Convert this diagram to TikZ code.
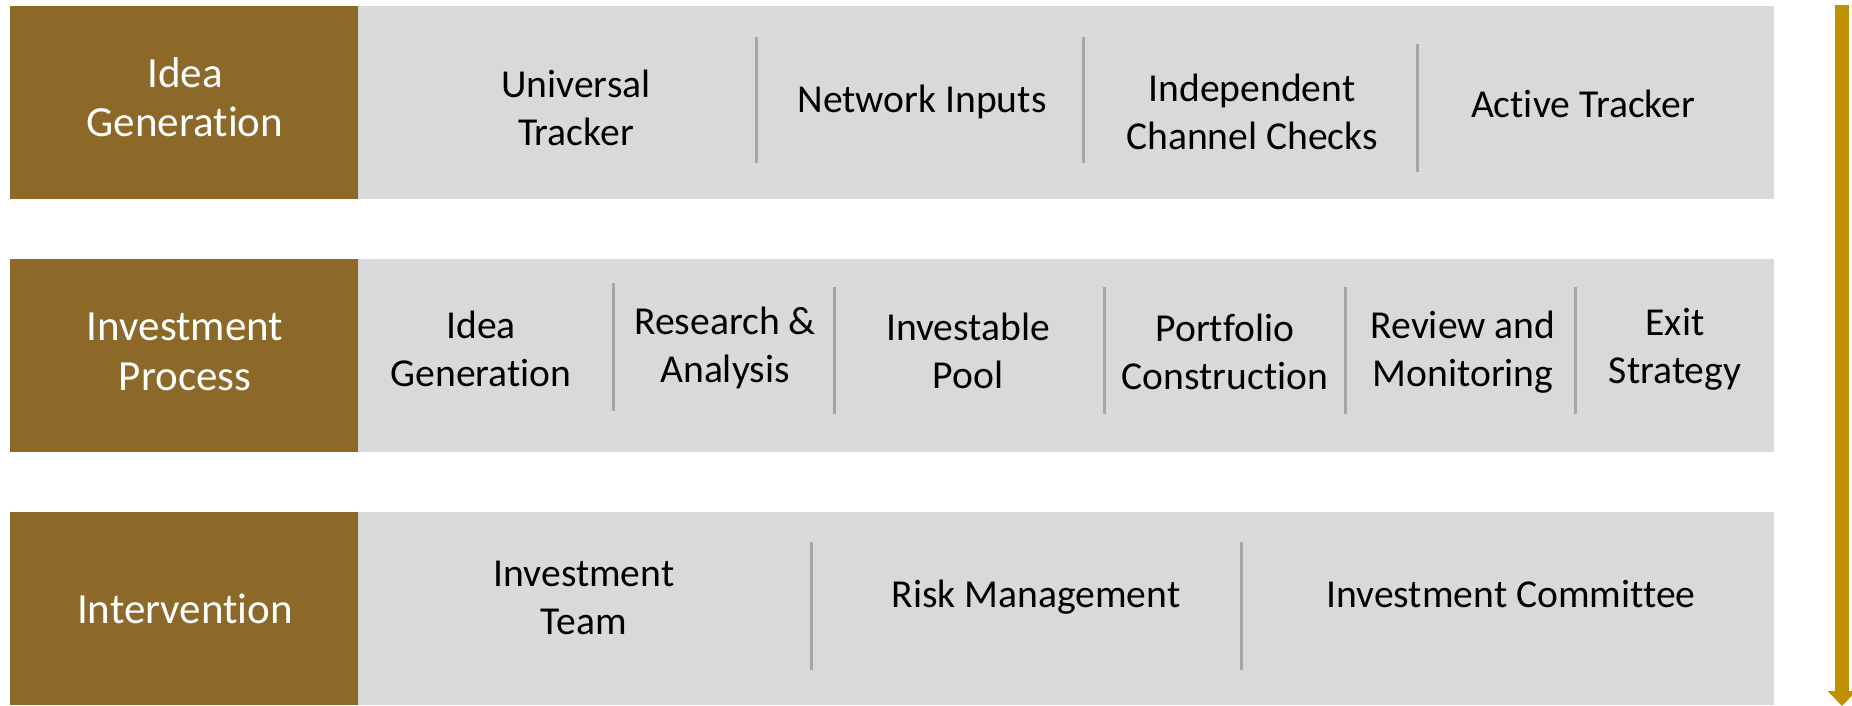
\documentclass[tikz,border=0pt]{standalone}
\usepackage{fontspec}
\setmainfont[Ligatures=NoCommon]{Carlito}
\usetikzlibrary{arrows.meta}
\definecolor{brownc}{HTML}{8C6829}
\definecolor{greyc}{HTML}{D9D9D9}
\definecolor{sepc}{HTML}{A6A6A6}
\definecolor{goldc}{HTML}{BF9000}
\begin{document}
\begin{tikzpicture}[x=1pt,y=-1pt,
  labelbox/.style={fill=brownc, draw=none, minimum width=348pt, minimum height=193pt, inner sep=0pt, outer sep=0pt, anchor=north west},
  bandbox/.style={fill=greyc, draw=none, minimum width=1416pt, minimum height=193pt, inner sep=0pt, outer sep=0pt, anchor=north west},
  labeltext/.style={text=white, font=\fontsize{43}{50}\selectfont, align=center, inner sep=0pt},
  itemtext/.style={text=black, font=\fontsize{39.6}{48}\selectfont, align=center, inner sep=0pt},
  sepline/.style={draw=sepc, line width=3pt},
  flowarrow/.style={draw=goldc, line width=14pt, -{Triangle[width=28pt,length=15pt]}}
]
\useasboundingbox (0,0) rectangle (1852,706);

% bands
\node[labelbox] (lb1) at (10,6) {};
\node[bandbox] (bb1) at (358,6) {};
\node[labelbox] (lb2) at (10,259) {};
\node[bandbox] (bb2) at (358,259) {};
\node[labelbox] (lb3) at (10,512) {};
\node[bandbox] (bb3) at (358,512) {};

% labels
\node[labeltext] (t1) at (185,102) {\strut Idea\\Generation\strut};
\node[labeltext] (t2) at (185,355) {\strut Investment\\Process\strut};
\node[labeltext, anchor=base] (t3) at (185,623) {Intervention};

% row 1
\node[itemtext] (r1a) at (576,112.4) {\strut Universal\\Tracker\strut};
\node[itemtext, anchor=base] (r1b) at (922,113) {Network Inputs};
\node[itemtext] (r1c) at (1252,116.4) {\strut Independent\\Channel Checks\strut};
\node[itemtext, anchor=base] (r1d) at (1583,118) {Active Tracker};
\draw[sepline] (756,37) -- (756,163);
\draw[sepline] (1083,37) -- (1083,163);
\draw[sepline] (1417,44) -- (1417,172);

% row 2
\node[itemtext] (r2a) at (481,352.4) {\strut Idea\\Generation\strut};
\node[itemtext] (r2b) at (725,348.4) {\strut Research \&\\Analysis\strut};
\node[itemtext] (r2c) at (968,354.4) {\strut Investable\\Pool\strut};
\node[itemtext] (r2d) at (1225,355.4) {\strut Portfolio\\Construction\strut};
\node[itemtext] (r2e) at (1463,352.4) {\strut Review and\\Monitoring\strut};
\node[itemtext] (r2f) at (1675,349.4) {\strut Exit\\Strategy\strut};
\draw[sepline] (613,283) -- (613,411);
\draw[sepline] (834,287) -- (834,414);
\draw[sepline] (1104,287) -- (1104,414);
\draw[sepline] (1345,287) -- (1345,414);
\draw[sepline] (1575,287) -- (1575,414);

% row 3
\node[itemtext] (r3a) at (584,600.4) {\strut Investment\\Team\strut};
\node[itemtext, anchor=base] (r3b) at (1036,607) {Risk Management};
\node[itemtext, anchor=base] (r3c) at (1511,607) {Investment Committee};
\draw[sepline] (811,542) -- (811,670);
\draw[sepline] (1241,542) -- (1241,670);

% flow arrow
\coordinate (atop) at (1842,5);
\coordinate (abot) at (1842,706);
\draw[flowarrow] (atop) -- (abot);
\end{tikzpicture}
\end{document}
